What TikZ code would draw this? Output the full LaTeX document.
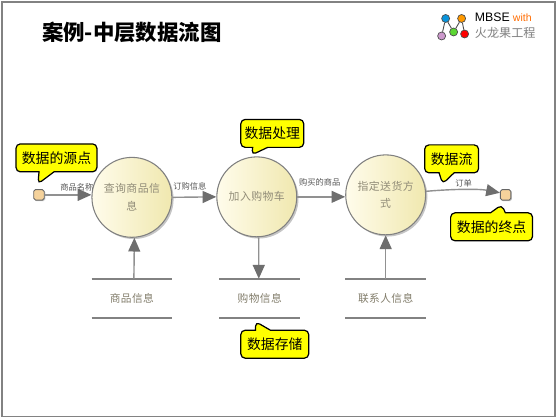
\documentclass[tikz,border=0pt]{standalone}
\usepackage{fontspec}
\setmainfont{Noto Sans CJK SC}
\newfontfamily\latinfont{Liberation Sans}
\newfontfamily\spacedfont[LetterSpace=4]{Noto Sans CJK SC}
\definecolor{framegray}{RGB}{130,130,130}
\definecolor{linegray}{RGB}{145,145,145}
\definecolor{tipgray}{RGB}{110,110,110}
\definecolor{labelgray}{RGB}{85,85,85}
\definecolor{proctext}{RGB}{145,140,120}
\definecolor{creamleft}{RGB}{255,252,235}
\definecolor{creamright}{RGB}{240,232,175}
\definecolor{notecolor}{RGB}{255,255,0}
\definecolor{peach}{RGB}{245,210,155}
\usetikzlibrary{shapes.callouts,arrows.meta,shadows}

\begin{document}
\begin{tikzpicture}[
    x=0.02cm, y=-0.02cm,
    proc/.style={circle,draw=gray,line width=0.6pt,left color=creamleft,right color=creamright,
                 drop shadow={shadow xshift=1pt,shadow yshift=-1pt,fill=black!45},
                 minimum size=1.6cm,inner sep=0pt,align=center,
                 font=\spacedfont\fontsize{6.2}{10}\selectfont,text=proctext},
    store/.style={minimum width=1.6cm,minimum height=0.78cm,inner sep=0pt,
                  font=\spacedfont\fontsize{6.1}{8}\selectfont,text=proctext!90!black},
    storeline/.style={line width=1.15pt,framegray},
    terminal/.style={draw=gray!80!black,rounded corners=1pt,line width=0.5pt,fill=peach,
                     minimum size=0.21cm,inner sep=0pt,
                     drop shadow={shadow xshift=0.6pt,shadow yshift=-0.6pt,fill=black!40}},
    arr/.style={-{Triangle[length=7.8pt,width=6.8pt,color=tipgray]},line width=0.8pt,linegray},
    flowlabel/.style={inner sep=0pt,font=\fontsize{4.7}{6}\selectfont,text=labelgray},
    note/.style={rectangle callout,draw=black,line width=0.7pt,rounded corners=2.5pt,fill=notecolor,
                 inner sep=0pt,minimum height=0.56cm,callout pointer width=0.3cm,
                 font=\fontsize{7.9}{9}\selectfont},
    dot/.style={circle,draw=black!70,line width=0.4pt,minimum size=0.16cm,inner sep=0pt}]

    % page frame
    \node[draw=framegray,line width=0.9pt,fill=white,minimum width=11.08cm,minimum height=8.3cm,
          inner sep=0pt,anchor=north west] (page) at (1,1) {};
    \useasboundingbox (0,0) rectangle (556,417);

    % title and logo
    \node[font=\fontsize{12.2}{14}\selectfont\bfseries,inner sep=0pt] (title) at (132,32) {案例-中层数据流图};
    \node[dot,fill=cyan!80!blue] (lgblue) at (446,18.5) {};
    \node[dot,fill=orange!80!yellow] (lgorange) at (462,18.5) {};
    \node[dot,fill=violet!40!white] (lgviolet) at (442,36) {};
    \node[dot,fill=green!60!olive!80!white] (lggreen) at (454,32) {};
    \node[dot,fill=red] (lgred) at (465,34) {};
    \draw[black!70,line width=0.5pt] (lgviolet) -- (lgblue) -- (lggreen) -- (lgorange) -- (lgred);
    \node[anchor=west,inner sep=0pt,font=\latinfont\fontsize{7}{8}\selectfont] (lgmbse) at (475,17) {MBSE};
    \node[anchor=west,inner sep=0pt,font=\latinfont\fontsize{6}{8}\selectfont,text=orange!85!red] (lgwith) at (513,17.5) {with};
    \node[anchor=west,inner sep=0pt,font=\fontsize{6.9}{8}\selectfont,text=gray] (lgname) at (475,33) {火龙果工程};

    % terminals and processes
    \node[terminal] (src) at (39,195) {};
    \node[terminal] (dst) at (506,195) {};
    \node[proc] (query) at (132,197.5) {查询商品信\\息};
    \node[proc] (shop) at (257,197) {加入购物车};
    \node[proc] (deliver) at (386,195) {指定送货方\\式};

    % data stores
    \node[store] (goods) at (132,298.75) {商品信息};
    \node[store] (cart) at (260,298.75) {购物信息};
    \node[store] (contact) at (386,298.75) {联系人信息};
    \foreach \s in {goods,cart,contact} {
      \draw[storeline] (\s.north west) -- (\s.north east);
      \draw[storeline] (\s.south west) -- (\s.south east);
    }

    % data flows
    \draw[arr] (src.east) -- (src.east -| query.west);
    \draw[arr] (query.east) -- (shop.west);
    \draw[arr] (shop.east) -- (shop.east -| deliver.west);
    \draw[arr] (deliver.5) .. controls (455,189) and (480,189) .. (dst.160);
    \draw[arr] ([xshift=0.04cm]goods.north) -- ([xshift=0.05cm]query.south);
    \draw[arr] ([xshift=0.04cm]shop.south) -- ([xshift=-0.02cm]cart.north);
    \draw[arr] (contact.north) -- (deliver.south);
    \node[flowlabel] (lblname) at (77,188) {商品名称};
    \node[flowlabel] (lblorder) at (190,186) {订购信息};
    \node[flowlabel] (lblbought) at (320,183) {购买的商品};
    \node[flowlabel] (lblbill) at (464,184) {订单};

    % yellow notes
    \node[note,minimum width=1.62cm,callout absolute pointer={(38,184)}] (nsource) at (56.5,158) {数据的源点};
    \node[note,minimum width=1.26cm,callout absolute pointer={(252,155)}] (nproc) at (272.5,133.5) {数据处理};
    \node[note,minimum width=1.08cm,callout absolute pointer={(443,184)}] (nflow) at (452,159) {数据流};
    \node[note,minimum width=1.64cm,callout absolute pointer={(502,205)}] (nsink) at (492,227) {数据的终点};
    \node[note,minimum width=1.36cm,callout absolute pointer={(256,322)}] (nstore) at (275,344.5) {数据存储};
\end{tikzpicture}
\end{document}
